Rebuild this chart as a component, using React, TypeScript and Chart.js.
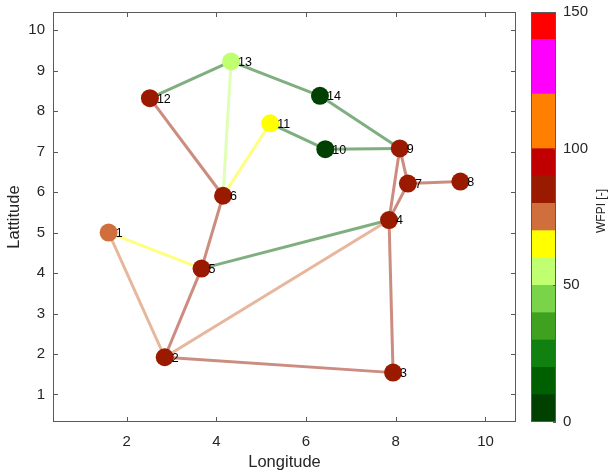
import React, { useEffect, useRef } from "react";
import { Chart, registerables } from "chart.js";
Chart.register(...registerables);

// ---- data ----
const nodeIds = [1, 2, 3, 4, 5, 6, 7, 8, 9, 10, 11, 12, 13, 14];
const nodeX = [1.6, 2.85, 7.94, 7.85, 3.67, 4.15, 8.27, 9.44, 8.09, 6.43, 5.2, 2.52, 4.33, 6.31];
const nodeY = [5.0, 1.92, 1.54, 5.31, 4.11, 5.91, 6.21, 6.26, 7.08, 7.06, 7.7, 8.32, 9.23, 8.38];
const nodeWFPI = [75, 85, 85, 85, 85, 85, 85, 85, 85, 5, 65, 85, 55, 5];

const edgeFrom = [1, 1, 2, 2, 2, 3, 4, 4, 4, 7, 7, 5, 6, 6, 6, 9, 9, 10, 12, 13];
const edgeTo = [2, 5, 5, 4, 3, 4, 5, 7, 9, 9, 8, 6, 12, 13, 11, 14, 10, 11, 13, 14];
const edgeWFPI = [75, 65, 85, 75, 85, 85, 15, 85, 85, 85, 85, 85, 85, 55, 65, 15, 15, 15, 15, 15];

const xTicks = [2, 4, 6, 8, 10];
const yTicks = [1, 2, 3, 4, 5, 6, 7, 8, 9, 10];

const cbBounds = [0, 10, 20, 30, 40, 50, 60, 70, 80, 90, 100, 120, 140, 150];
const cbColors = [
  "#004000", "#006000", "#108010", "#40A020", "#7AD44A", "#C0FF70", "#FFFF00",
  "#D06F3C", "#9A1A00", "#C00000", "#FF8000", "#FF00FF", "#FF0000",
];
const cbTicks = [0, 50, 100, 150];

const FONT = "'Liberation Sans', Arial, Helvetica, sans-serif";
const TXT = "#262626";
const AXC = "#5a5a5a";

function colorFor(v: number): string {
  for (let i = 0; i < cbColors.length; i++) {
    if (v >= cbBounds[i] && v < cbBounds[i + 1]) return cbColors[i];
  }
  return cbColors[cbColors.length - 1];
}
function withAlpha(hex: string, a: number): string {
  const r = parseInt(hex.slice(1, 3), 16);
  const g = parseInt(hex.slice(3, 5), 16);
  const b = parseInt(hex.slice(5, 7), 16);
  return `rgba(${r},${g},${b},${a})`;
}
function zeroPad(s: any) {
  s.paddingTop = 0;
  s.paddingBottom = 0;
  s.paddingLeft = 0;
  s.paddingRight = 0;
}

const boxPlugin = {
  id: "boxTicks",
  afterDatasetsDraw(chart: any) {
    const { ctx, chartArea: a } = chart;
    const xs = chart.scales.x;
    const ys = chart.scales.y;
    ctx.save();
    // node labels
    ctx.fillStyle = "#000";
    ctx.font = `12.5px ${FONT}`;
    ctx.textAlign = "left";
    ctx.textBaseline = "middle";
    nodeIds.forEach((id, i) => {
      const px = xs.getPixelForValue(nodeX[i]);
      const py = ys.getPixelForValue(nodeY[i]);
      ctx.fillText(String(id), px + 7, py + 1);
    });
    // box
    ctx.strokeStyle = AXC;
    ctx.lineWidth = 1;
    ctx.strokeRect(Math.round(a.left) + 0.5, Math.round(a.top) + 0.5, Math.round(a.right - a.left) - 1, Math.round(a.bottom - a.top) - 1);
    const L = 5;
    ctx.beginPath();
    xTicks.forEach((v) => {
      const p = Math.round(xs.getPixelForValue(v)) + 0.5;
      ctx.moveTo(p, a.bottom);
      ctx.lineTo(p, a.bottom - L);
      ctx.moveTo(p, a.top);
      ctx.lineTo(p, a.top + L);
    });
    yTicks.forEach((v) => {
      const p = Math.round(ys.getPixelForValue(v)) + 0.5;
      ctx.moveTo(a.left, p);
      ctx.lineTo(a.left + L, p);
      ctx.moveTo(a.right, p);
      ctx.lineTo(a.right - L, p);
    });
    ctx.stroke();
    ctx.restore();
  },
};

const cbPlugin = {
  id: "cbBox",
  afterDatasetsDraw(chart: any) {
    const { ctx, chartArea: a } = chart;
    const ys = chart.scales.y;
    ctx.save();
    ctx.strokeStyle = AXC;
    ctx.lineWidth = 1;
    ctx.strokeRect(Math.round(a.left) + 0.5, Math.round(a.top) + 0.5, Math.round(a.right - a.left) - 1, Math.round(a.bottom - a.top) - 1);
    ctx.beginPath();
    cbTicks.forEach((v) => {
      const p = Math.round(ys.getPixelForValue(v)) + 0.5;
      ctx.moveTo(a.right, p);
      ctx.lineTo(a.right - 3, p);
    });
    ctx.stroke();
    ctx.fillStyle = TXT;
    ctx.font = `12px ${FONT}`;
    ctx.textAlign = "center";
    ctx.textBaseline = "middle";
    ctx.translate(77, 211);
    ctx.rotate(-Math.PI / 2);
    ctx.fillText("WFPI [-]", 0, 0);
    ctx.restore();
  },
};

export default function App() {
  const mainRef = useRef<HTMLCanvasElement>(null);
  const cbRef = useRef<HTMLCanvasElement>(null);

  useEffect(() => {
    const edgeSets = edgeFrom.map((f, k) => {
      const t = edgeTo[k];
      return {
        type: "scatter" as const,
        data: [
          { x: nodeX[f - 1], y: nodeY[f - 1] },
          { x: nodeX[t - 1], y: nodeY[t - 1] },
        ],
        showLine: true,
        borderColor: withAlpha(colorFor(edgeWFPI[k]), 0.5),
        borderWidth: 3,
        pointRadius: 0,
        order: 1,
      };
    });
    const nodeSet = {
      type: "scatter" as const,
      data: nodeIds.map((_, i) => ({ x: nodeX[i], y: nodeY[i] })),
      pointRadius: 9,
      pointBorderWidth: 0,
      pointBackgroundColor: nodeWFPI.map(colorFor),
      pointBorderColor: nodeWFPI.map(colorFor),
      showLine: false,
      order: 0,
    };
    const main = new Chart(mainRef.current!, {
      type: "scatter",
      data: { datasets: [nodeSet, ...edgeSets] as any },
      options: {
        animation: false,
        responsive: false,
        layout: { padding: { top: 12, right: 7, left: 0, bottom: 0 } },
        plugins: { legend: { display: false }, tooltip: { enabled: false } },
        scales: {
          x: {
            type: "linear",
            min: 0.36,
            max: 10.68,
            afterBuildTicks: (s: any) => { s.ticks = xTicks.map((v) => ({ value: v })); },
            afterFit: (s: any) => { s.height = 53; zeroPad(s); },
            grid: { display: false, drawTicks: false },
            border: { display: false },
            ticks: { padding: 11, color: TXT, font: { family: FONT, size: 15 } },
            title: { display: true, text: "Longitude", color: TXT, font: { family: FONT, size: 16.5 }, padding: { top: 0, bottom: 3 } },
          },
          y: {
            type: "linear",
            min: 0.32,
            max: 10.45,
            afterBuildTicks: (s: any) => { s.ticks = yTicks.map((v) => ({ value: v })); },
            afterFit: (s: any) => { s.width = 53; zeroPad(s); },
            grid: { display: false, drawTicks: false },
            border: { display: false },
            ticks: { padding: 8, color: TXT, font: { family: FONT, size: 15 } },
            title: { display: true, text: "Lattitude", color: TXT, font: { family: FONT, size: 16.5 }, padding: { top: 5, bottom: 0 } },
          },
        },
      },
      plugins: [boxPlugin],
    });

    const cb = new Chart(cbRef.current!, {
      type: "bar",
      data: {
        labels: [""],
        datasets: cbColors.map((c, i) => ({
          data: [[cbBounds[i], cbBounds[i + 1]]] as any,
          backgroundColor: c,
          borderWidth: 0,
          grouped: false,
          barPercentage: 1,
          categoryPercentage: 1,
        })),
      },
      options: {
        animation: false,
        responsive: false,
        layout: { padding: { top: 12, left: 6, bottom: 53, right: 0 } },
        plugins: { legend: { display: false }, tooltip: { enabled: false } },
        scales: {
          x: { display: false },
          y: {
            position: "right",
            min: 0,
            max: 150,
            afterBuildTicks: (s: any) => { s.ticks = cbTicks.map((v) => ({ value: v })); },
            afterFit: (s: any) => { s.width = 54; zeroPad(s); },
            grid: { display: false, drawTicks: false },
            border: { display: false },
            ticks: { padding: 7, color: TXT, font: { family: FONT, size: 15 } },
          },
        },
      },
      plugins: [cbPlugin],
    });

    return () => {
      main.destroy();
      cb.destroy();
    };
  }, []);

  return (
    <div style={{ position: "absolute", left: 0, top: 0, width: 610, height: 475, background: "#fff" }}>
      <canvas ref={mainRef} width={525} height={475} style={{ position: "absolute", left: 0, top: 0, width: 525, height: 475 }} />
      <canvas ref={cbRef} width={85} height={475} style={{ position: "absolute", left: 525, top: 0, width: 85, height: 475 }} />
    </div>
  );
}
